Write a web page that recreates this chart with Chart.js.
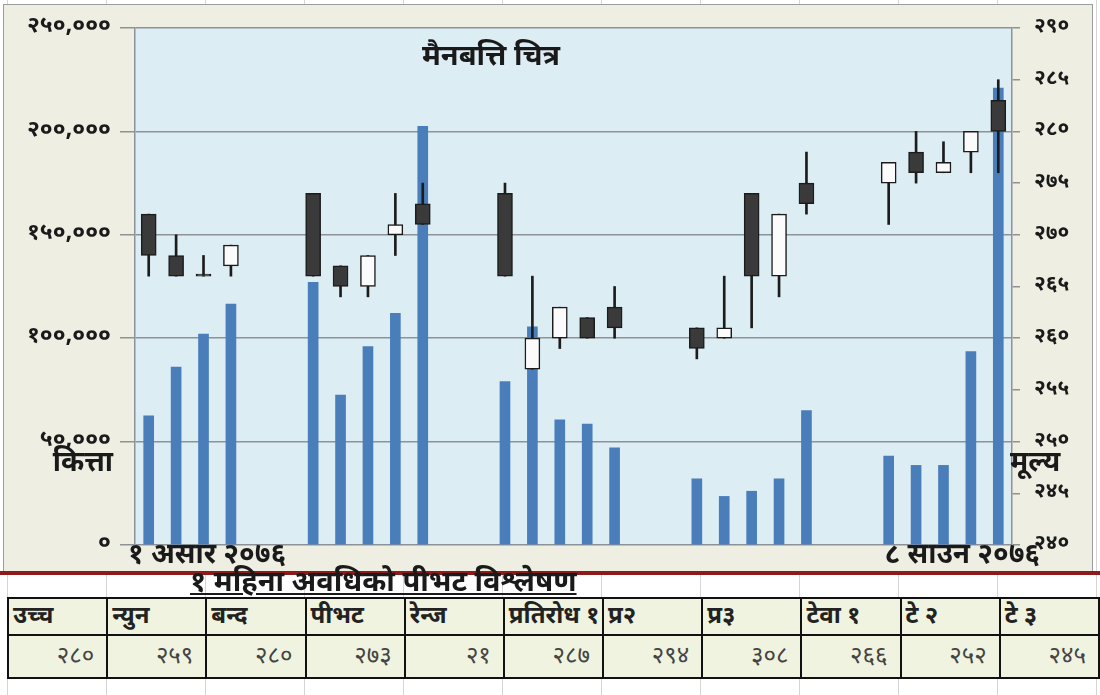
<!DOCTYPE html>
<html>
<head>
<meta charset="utf-8">
<script src="https://cdn.jsdelivr.net/npm/chart.js@4.4.1/dist/chart.umd.min.js"></script>
<style>
  html, body { margin: 0; padding: 0; }
  body {
    width: 1100px; height: 695px; position: relative; overflow: hidden;
    background: #fff repeating-linear-gradient(to right, #d6d6d6 0 1px, transparent 1px 99px);
    background-position: 7px 0;
    font-family: "Noto Sans Devanagari", "Noto Serif Devanagari", "Lohit Devanagari", "FreeSerif", "Noto Sans", sans-serif;
  }
  #panel {
    position: absolute; left: 3px; top: 4px; width: 1088px; height: 567px;
    background: #eeefe2; border: 1px solid #9c9c9c; border-bottom: none;
  }
  #wrap { position: absolute; left: 0; top: 0; width: 1100px; height: 572px; }
  #redline { position: absolute; left: 0; top: 571px; width: 1100px; height: 4px; background: #8e1b1b; }
  #ttl {
    position: absolute; left: 190px; top: 566px; font-size: 29px; font-weight: bold; line-height: 36px;
    text-decoration: underline; color: #1a1a1a; white-space: nowrap;
  }
  table {
    position: absolute; left: 7px; top: 597px; border-collapse: collapse; table-layout: fixed;
    width: 1093px; background: #eff3df;
  }
  td {
    width: 99px; border: 2px solid #111; padding: 0 4px; font-size: 24px;
    color: #222; white-space: nowrap; box-sizing: border-box; overflow: hidden;
  }
  tr.hd td { height: 37px; font-weight: bold; text-align: left; }
  tr.vl td { height: 43px; text-align: right; color: #444; padding-right: 12px; }
</style>
</head>
<body>
<div id="panel"></div>
<div id="wrap"><canvas id="chart" width="1100" height="572"></canvas></div>
<div id="redline"></div>
<div id="ttl"></div>
<table id="pivot"><tr class="hd"></tr><tr class="vl"></tr></table>

<script>
// --- data ---
const days = ['1','2','3','4','5','6','7','8','9','10','11','12','13','14','15','16',
              '17','18','19','20','21','22','23','24','25','26','27','28','29','30','31','32'];

const volume = [62500, 86000, 102000, 116500, null, null, 127000, 72500, 96000, 112000, 202500, null, null,
                79000, 105500, 60500, 58500, 47000, null, null, 32000, 23500, 26000, 32000, 65000, null, null,
                43000, 38500, 38500, 93500, 221000];

const open  = [272, 268, 266, 267, null, null, 274, 267, 265, 270, 273, null, null,
               274, 257, 260, 262, 263, null, null, 261, 260, 274, 266, 275, null, null,
               275, 278, 276, 278, 283];
const high  = [272, 270, 268, 269, null, null, 274, 267, 268, 274, 275, null, null,
               275, 266, 263, 262, 265, null, null, 261, 266, 274, 272, 278, null, null,
               277, 280, 279, 280, 285];
const low   = [266, 266, 266, 266, null, null, 266, 264, 264, 268, 271, null, null,
               266, 257, 259, 260, 260, null, null, 258, 260, 261, 264, 272, null, null,
               271, 275, 276, 276, 276];
const close = [268, 266, 266, 269, null, null, 266, 265, 268, 271, 271, null, null,
               266, 260, 263, 260, 261, null, null, 259, 261, 266, 272, 273, null, null,
               277, 276, 277, 280, 280];

const volTicks = { min: 0, max: 250000, step: 50000 };
const priceTicks = { min: 240, max: 290, step: 5 };

const chartTitle = 'मैनबत्ति चित्र';
const volLabel = 'कित्ता';
const priceLabel = 'मूल्य';
const firstDate = '१ असार २०७६';
const lastDate = '८ साउन २०७६';

const tableTitle = '१ महिना अवधिको पीभट विश्लेषण';
const pivotHeads = ['उच्च', 'न्युन', 'बन्द', 'पीभट', 'रेन्ज', 'प्रतिरोध १', 'प्र२', 'प्र३', 'टेवा १', 'टे २', 'टे ३'];
const pivotVals = [280, 259, 280, 273, 21, 287, 294, 308, 266, 252, 245];

// ---
const FONT = '"Noto Sans Devanagari", "Noto Serif Devanagari", "Lohit Devanagari", "FreeSerif", "Noto Sans", sans-serif';
const NEP = ['०','१','२','३','४','५','६','७','८','९'];
function nep(s) { return String(s).replace(/[0-9]/g, d => NEP[+d]); }

document.getElementById('ttl').textContent = tableTitle;
const hd = document.querySelector('tr.hd'), vl = document.querySelector('tr.vl');
pivotHeads.forEach((h, i) => {
    const a = document.createElement('td'); a.textContent = h; hd.appendChild(a);
    const b = document.createElement('td'); b.textContent = nep(pivotVals[i]); vl.appendChild(b);
});

const bodies = open.map((o, i) => o == null ? null : [o, close[i]]);
const wicks = low.map((l, i) => l == null ? null : [l, high[i]]);
// black body when price did not rise
const bodyColors = open.map((o, i) => close[i] <= o ? '#3a3a3a' : '#fbfbfb');

const GRID = '#8d9296';

// plot background + free text (title, axis names, end dates)
const extras = {
    id: 'extras',
    beforeDraw(chart) {
        const { ctx, chartArea: a } = chart;
        ctx.save();
        ctx.fillStyle = '#dcedf4';
        ctx.fillRect(a.left, a.top, a.right - a.left, a.bottom - a.top);
        ctx.restore();
    },
    afterDraw(chart) {
        const { ctx, chartArea: a } = chart;
        ctx.save();
        ctx.fillStyle = '#1a1a1a';
        ctx.textBaseline = 'middle';
        ctx.font = 'bold 29px ' + FONT;
        ctx.textAlign = 'center';
        ctx.fillText(chartTitle, 491, 60);
        ctx.font = 'bold 28px ' + FONT;
        ctx.textAlign = 'right';
        ctx.fillText(volLabel, 113, 466);
        ctx.textAlign = 'left';
        ctx.fillText(priceLabel, 1010, 466);
        ctx.font = 'bold 28px ' + FONT;
        ctx.textAlign = 'left';
        ctx.fillText(firstDate, a.left - 7, 558);
        ctx.textAlign = 'right';
        ctx.fillText(lastDate, 1040, 558);
        ctx.restore();
    }
};

new Chart(document.getElementById('chart'), {
    type: 'bar',
    data: {
        labels: days,
        datasets: [
            {
                label: 'body', data: bodies, yAxisID: 'y1', order: 0, grouped: false,
                barThickness: 15, backgroundColor: bodyColors, borderColor: '#1c1c1c',
                borderWidth: 1.5, borderSkipped: false, minBarLength: 2
            },
            {
                label: 'wick', data: wicks, yAxisID: 'y1', order: 1, grouped: false,
                barThickness: 2, backgroundColor: '#1c1c1c', borderWidth: 0
            },
            {
                label: 'volume', data: volume, yAxisID: 'y', order: 2, grouped: false,
                barThickness: 10, backgroundColor: '#4a7ebb', borderWidth: 0
            }
        ]
    },
    options: {
        responsive: false,
        animation: false,
        layout: { padding: { top: 28, left: 0, right: 0, bottom: 0 } },
        plugins: { legend: { display: false }, tooltip: { enabled: false } },
        scales: {
            x: {
                grid: { display: false },
                border: { display: false },
                ticks: { display: false },
                afterFit: s => { s.height = 27; }
            },
            y: {
                position: 'left',
                min: volTicks.min, max: volTicks.max,
                ticks: {
                    stepSize: volTicks.step, color: '#1a1a1a', padding: 9,
                    font: { family: FONT, size: 23, weight: 'bold' },
                    callback: v => nep(v.toLocaleString('en-US'))
                },
                grid: { color: GRID, lineWidth: 1.5, tickLength: 15 },
                border: { color: GRID, width: 1.5 },
                afterFit: s => { s.width = 135; }
            },
            y1: {
                position: 'right',
                min: priceTicks.min, max: priceTicks.max,
                ticks: {
                    stepSize: priceTicks.step, color: '#1a1a1a', padding: 14,
                    font: { family: FONT, size: 21, weight: 'bold' },
                    callback: v => nep(v)
                },
                grid: { drawOnChartArea: false, color: GRID, lineWidth: 1.5, tickLength: 8 },
                border: { color: GRID, width: 1.5 },
                afterFit: s => { s.width = 88; }
            }
        }
    },
    plugins: [extras]
});
</script>
</body>
</html>
